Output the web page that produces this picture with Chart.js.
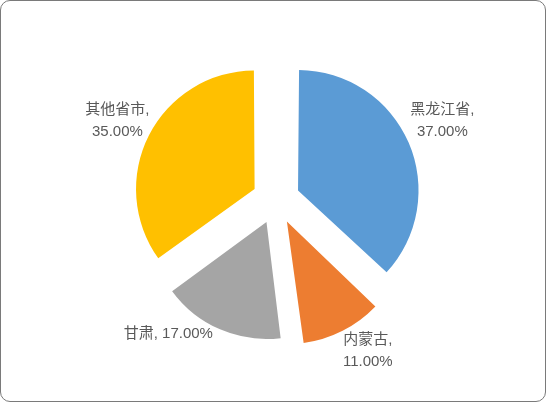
<!DOCTYPE html>
<html>
<head>
<meta charset="utf-8">
<script src="https://cdn.jsdelivr.net/npm/chart.js@4.4.1/dist/chart.umd.min.js"></script>
<style>
    html, body { margin: 0; padding: 0; background: #ffffff; }
    #frame {
        position: absolute; left: 0; top: 0;
        width: 546px; height: 402px;
        box-sizing: border-box;
        border: 1px solid #7a7a7a;
        border-radius: 10px;
    }
    #pie { position: absolute; left: 0; top: 0; }
</style>
</head>
<body>
<div id="frame"></div>
<canvas id="pie" width="547" height="403"></canvas>
<script>
// data
const provinces = ["黑龙江省", "内蒙古", "甘肃", "其他省市"];
const shares = [37, 11, 17, 35];
const sliceColors = ["#5B9BD5", "#ED7D31", "#A5A5A5", "#FFC000"];

const LABEL_DIST = 178;
const LINE_H = 22;
// small nudges so labels sit where Excel put them
const labelNudge = [[3, -8], [11, -8], [-37, -30], [0, 2]];
const oneLine = [false, false, true, false];

const sliceLabels = {
    id: 'sliceLabels',
    afterDatasetsDraw(chart) {
        let ctx = chart.ctx;
        let meta = chart.getDatasetMeta(0);
        let total = shares.reduce((a, b) => a + b, 0);
        ctx.save();
        ctx.font = '15px "Liberation Sans", "Noto Sans CJK SC", sans-serif';
        ctx.fillStyle = '#595959';
        ctx.textAlign = 'center';
        ctx.textBaseline = 'middle';
        meta.data.forEach((arc, i) => {
            let p = arc.getProps(['x', 'y', 'startAngle', 'endAngle'], true);
            let mid = (p.startAngle + p.endAngle) / 2;
            let px = p.x + Math.cos(mid) * LABEL_DIST + labelNudge[i][0];
            let py = p.y + Math.sin(mid) * LABEL_DIST + labelNudge[i][1];
            let pct = (shares[i] / total * 100).toFixed(2) + '%';
            let lines = oneLine[i] ? [provinces[i] + ', ' + pct] : [provinces[i] + ',', pct];
            lines.forEach((t, k) => {
                ctx.fillText(t, px, py + (k - (lines.length - 1) / 2) * LINE_H);
            });
        });
        ctx.restore();
    }
};

let ctx = document.getElementById('pie').getContext('2d');
let pieChart = new Chart(ctx, {
    type: 'pie',
    data: {
        labels: provinces,
        datasets: [{
            data: shares,
            backgroundColor: sliceColors,
            borderWidth: 0,
            offset: 96  // arc draws offset/4 px out
        }]
    },
    options: {
        responsive: false,
        devicePixelRatio: 1,
        animation: false,
        events: [],
        radius: 114,
        layout: {
            padding: { left: 76, right: 71, top: 0, bottom: 3 }
        },
        plugins: {
            legend: { display: false },
            tooltip: { enabled: false }
        }
    },
    plugins: [sliceLabels]
});
</script>
</body>
</html>
